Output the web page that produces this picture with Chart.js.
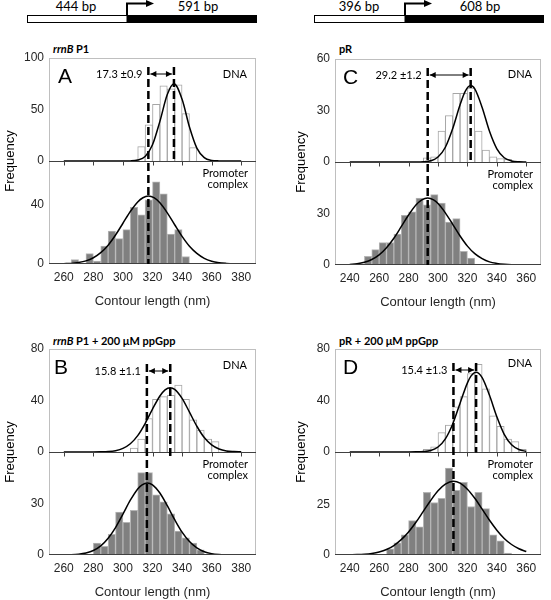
<!DOCTYPE html>
<html>
<head>
<meta charset="utf-8">
<script src="https://cdn.jsdelivr.net/npm/chart.js@4"></script>
<style>
  body { margin: 0; background: #fff; }
  #page { position: relative; width: 551px; height: 600px; overflow: hidden; background: #fff; }
  canvas { position: absolute; }
  .ttl { position: absolute; font: bold 11px Lato, "Open Sans", sans-serif; color: #000; white-space: nowrap; }
  svg text { font: 13px Lato, "Open Sans", sans-serif; }
</style>
</head>
<body>
<div id="page">
  <svg width="551" height="30" style="position:absolute;left:0;top:0">
    <rect x="27.5" y="15.5" width="99.5" height="7" fill="#fff" stroke="#000"/>
    <rect x="127" y="15" width="130" height="8" fill="#000"/>
    <path d="M127 15.5 V3.5 H147" stroke="#000" stroke-width="2" fill="none"/>
    <path d="M146 0 L154 3.5 L146 7 Z" fill="#000"/>
    <text x="76" y="11" text-anchor="middle">444 bp</text>
    <text x="198" y="11" text-anchor="middle">591 bp</text>

    <rect x="314.5" y="15.5" width="90.5" height="7" fill="#fff" stroke="#000"/>
    <rect x="405" y="15" width="139" height="8" fill="#000"/>
    <path d="M405 15.5 V3.5 H425" stroke="#000" stroke-width="2" fill="none"/>
    <path d="M424 0 L432 3.5 L424 7 Z" fill="#000"/>
    <text x="359" y="11" text-anchor="middle">396 bp</text>
    <text x="480" y="11" text-anchor="middle">608 bp</text>
  </svg>

  <div class="ttl" style="left:53px;top:42px"><i>rrnB</i> P1</div>
  <div class="ttl" style="left:339px;top:42px">pR</div>
  <div class="ttl" style="left:53px;top:334px"><i>rrnB</i> P1 + 200 μM ppGpp</div>
  <div class="ttl" style="left:339px;top:334px">pR + 200 μM ppGpp</div>

  <canvas id="chartA" width="275" height="272" style="left:0;top:40px"></canvas>
  <canvas id="chartC" width="275" height="272" style="left:276px;top:41px"></canvas>
  <canvas id="chartB" width="275" height="272" style="left:0;top:331px"></canvas>
  <canvas id="chartD" width="275" height="272" style="left:276px;top:331px"></canvas>
</div>

<script>
// histogramas (centro do bin em nm, contagens)
const binsA_dna = [312.5, 317.5, 322.5, 327.5, 332.5, 337.5, 342.5, 347.5];
const countsA_dna = [14, 35, 55, 73, 70, 74, 46, 13];
const binsA_cx = [267.5, 272.5, 277.5, 282.5, 287.5, 292.5, 297.5, 302.5, 307.5, 312.5, 317.5, 322.5, 327.5, 332.5, 337.5, 342.5];
const countsA_cx = [3, 0, 7, 2, 12, 22, 17, 23, 38, 33, 43, 55, 47, 20, 23, 5];

const binsB_dna = [307.5, 312.5, 317.5, 322.5, 327.5, 332.5, 337.5, 342.5, 347.5, 352.5, 357.5, 362.5];
const countsB_dna = [3, 10, 26, 41, 43, 44, 52, 41, 25, 17, 10, 8];
const binsB_cx = [282.5, 287.5, 292.5, 297.5, 302.5, 307.5, 312.5, 317.5, 322.5, 327.5, 332.5, 337.5, 342.5, 347.5, 352.5];
const countsB_cx = [7, 5, 12, 25, 19, 26, 48, 48, 35, 31, 24, 14, 10, 7, 3];

const binsC_dna = [292.5, 297.5, 302.5, 307.5, 312.5, 317.5, 322.5, 327.5, 332.5, 337.5, 342.5, 347.5];
const countsC_dna = [2.5, 3, 18, 27, 40, 40, 43, 18, 7, 3, 2, 1.5];
const binsC_cx = [252.5, 257.5, 262.5, 267.5, 272.5, 277.5, 282.5, 287.5, 292.5, 297.5, 302.5, 307.5, 312.5, 317.5, 322.5];
const countsC_cx = [5, 9, 13, 13, 18, 29, 31, 39, 35, 41, 36, 25, 27, 8, 4];

const binsD_dna = [292.5, 297.5, 302.5, 307.5, 312.5, 317.5, 322.5, 327.5, 332.5, 337.5, 342.5, 347.5, 352.5, 357.5];
const countsD_dna = [2, 4, 15, 21, 35, 43, 61, 68, 49, 28, 20, 10, 8, 2];
const binsD_cx = [267.5, 272.5, 277.5, 282.5, 287.5, 292.5, 297.5, 302.5, 307.5, 312.5, 317.5, 322.5, 327.5, 332.5, 337.5, 342.5, 347.5];
const countsD_cx = [3, 6, 10, 17, 14, 31, 26, 28, 43, 32, 36, 24, 31, 23, 10, 7, 1];

// curvas ajustadas
const fitA_dna_x = [260, 300, 305, 310, 315, 320, 325, 330, 334.5, 340, 345, 350, 355, 360, 365, 370, 380];
const fitA_dna_y = [0, 0, 0.1, 0.9, 4.4, 15.7, 38.5, 64.5, 75, 59.9, 33, 12.5, 3.3, 0.6, 0.1, 0, 0];
const fitA_cx_x = [260, 265, 270, 275, 280, 285, 290, 295, 300, 305, 310, 313.5, 317.2, 321, 325, 330, 335, 340, 345, 350, 355, 360, 365, 370, 375, 380];
const fitA_cx_y = [0.2, 0.4, 1.0, 2.1, 4.2, 7.6, 12.6, 19.4, 27.3, 35.2, 41.6, 44.4, 45.5, 44.4, 41, 34.3, 26.3, 18.5, 11.9, 7.1, 3.8, 1.9, 0.9, 0.4, 0.1, 0];

const fitB_dna_x = [260, 280, 285, 290, 295, 300, 305, 310, 315, 320, 325, 328.5, 332, 335, 340, 345, 350, 355, 360, 365, 370, 375, 380];
const fitB_dna_y = [0, 0, 0.1, 0.3, 1.0, 2.8, 6.4, 12.7, 22.1, 33.3, 43.5, 48.3, 50, 48.7, 41.7, 31, 20, 11.2, 5.5, 2.3, 0.8, 0.3, 0.1];
const fitB_cx_x = [260, 265, 270, 275, 280, 285, 290, 295, 300, 305, 310, 313, 316.5, 320, 325, 330, 335, 340, 345, 350, 355, 360, 365, 370, 375, 380];
const fitB_cx_y = [0.1, 0.2, 0.5, 1.2, 2.6, 5.3, 9.8, 16, 23.8, 31.9, 38.5, 40.9, 42, 40.9, 36.1, 28.7, 20.6, 13.3, 7.8, 4.1, 1.9, 0.8, 0.3, 0.1, 0, 0];

const fitC_dna_x = [240, 285, 290, 295, 300, 305, 310, 315, 318.5, 322.2, 325, 330, 335, 340, 345, 350, 355, 360];
const fitC_dna_y = [0, 0, 0.1, 0.7, 2.9, 8.6, 19.5, 33.4, 41.2, 44.5, 42.6, 31.8, 17.9, 7.7, 2.5, 0.6, 0.1, 0];
const fitC_cx_x = [240, 245, 250, 255, 260, 265, 270, 275, 280, 285, 289, 293, 297, 300, 305, 310, 315, 320, 325, 330, 335, 340, 345, 350, 355, 360];
const fitC_cx_y = [0.3, 0.7, 1.6, 3.2, 5.9, 10.1, 15.6, 22.3, 29.1, 34.9, 37.9, 39, 37.9, 35.8, 30.4, 23.7, 16.9, 11, 6.6, 3.7, 1.8, 0.9, 0.4, 0.1, 0, 0];

const fitD_dna_x = [240, 280, 285, 290, 295, 300, 305, 310, 315, 320, 322.5, 325.9, 330, 335, 340, 345, 350, 355, 360];
const fitD_dna_y = [0, 0, 0.1, 0.3, 1.2, 3.9, 10.2, 21.8, 37.9, 53.7, 59.1, 62, 57.8, 44, 27.3, 13.7, 5.6, 1.9, 0.5];
const fitD_cx_x = [240, 245, 250, 255, 260, 265, 270, 275, 280, 285, 290, 295, 300, 305, 310.5, 315, 320, 325, 330, 335, 340, 345, 350, 355, 360];
const fitD_cx_y = [0.1, 0.2, 0.4, 0.8, 1.5, 2.7, 4.7, 7.6, 11.4, 16.2, 21.6, 27, 31.8, 35.1, 36.5, 35.6, 32.6, 28.1, 22.7, 17.2, 12.3, 8.2, 5.2, 3.1, 1.7];

// médias (linhas tracejadas) e diferença
const meanDNA = [334.5, 332.0, 322.2, 325.9];
const meanComplex = [317.2, 316.2, 293.0, 310.5];
const shiftLabels = ["17.3 ±0.9", "15.8 ±1.1", "29.2 ±1.2", "15.4 ±1.3"];

// eixos
const xRanges = [[260, 380], [260, 380], [240, 360], [240, 360]];
const topAxis = [[100, 50], [80, 40], [60, 30], [80, 40]];   // [max, passo]
const botAxis = [[69, 40], [60, 30], [60, 30], [51, 25]];

const pts = (xs, ys) => xs.map((x, i) => ({ x: x, y: ys[i] }));

// desenha moldura, linhas tracejadas, seta e rótulos
const panelDeco = {
  id: "panelDeco",
  afterDatasetsDraw(chart, args, o) {
    const { ctx, chartArea: a, scales } = chart;
    const xs = scales.x;
    const mid = Math.round(scales.yTop.getPixelForValue(0)) + 0.5;
    const bot = Math.round(a.bottom) - 0.5;
    ctx.save();

    ctx.strokeStyle = "#bfbfbf";
    ctx.lineWidth = 1;
    ctx.strokeRect(Math.round(a.left) + 0.5, Math.round(a.top) + 0.5, Math.round(a.width) - 1, Math.round(a.height) - 1);

    ctx.strokeStyle = "#404040";
    ctx.beginPath();
    ctx.moveTo(a.left, mid); ctx.lineTo(a.right, mid);
    ctx.moveTo(a.left, bot); ctx.lineTo(a.right, bot);
    xs.ticks.forEach(t => {
      const px = Math.round(xs.getPixelForValue(t.value)) + 0.5;
      ctx.moveTo(px, mid); ctx.lineTo(px, mid + 4);
    });
    ctx.stroke();

    const xd = xs.getPixelForValue(o.dna);
    const xc = xs.getPixelForValue(o.cx);
    const ya = a.top + o.arrowY;

    ctx.setLineDash([8, 4]);
    ctx.lineWidth = 2.5;
    ctx.strokeStyle = "#000";
    ctx.beginPath();
    ctx.moveTo(xc, ya - 7); ctx.lineTo(xc, a.bottom);
    ctx.moveTo(xd, ya - 7); ctx.lineTo(xd, mid + o.dnaTail);
    ctx.stroke();
    ctx.setLineDash([]);

    // seta dupla
    ctx.lineWidth = 1;
    ctx.beginPath();
    ctx.moveTo(xc + 2, ya); ctx.lineTo(xd - 2, ya);
    ctx.stroke();
    ctx.fillStyle = "#000";
    ctx.beginPath();
    ctx.moveTo(xc + 2, ya); ctx.lineTo(xc + 8, ya - 3); ctx.lineTo(xc + 8, ya + 3); ctx.closePath();
    ctx.moveTo(xd - 2, ya); ctx.lineTo(xd - 8, ya - 3); ctx.lineTo(xd - 8, ya + 3); ctx.closePath();
    ctx.fill();

    ctx.font = "11px Lato, 'Open Sans', sans-serif";
    ctx.textBaseline = "middle";
    ctx.textAlign = "right";
    ctx.fillText(o.shift, xc - 6, ya);
    ctx.fillText("DNA", a.right - 9, a.top + o.dnaY);
    ctx.fillText("Promoter", a.right - 8, mid + 12);
    ctx.fillText("complex", a.right - 8, mid + 23);

    ctx.textAlign = "left";
    ctx.textBaseline = "alphabetic";
    ctx.font = "21px 'Liberation Sans', Arial, sans-serif";
    ctx.fillText(o.letter, a.left + o.letterX, a.top + 25);

    ctx.font = "13px 'Liberation Sans', Arial, sans-serif";
    ctx.textAlign = "center";
    ctx.textBaseline = "middle";
    ctx.translate(o.freqX, (a.top + a.bottom) / 2);
    ctx.rotate(-Math.PI / 2);
    ctx.fillText("Frequency", 0, 0);
    ctx.restore();
  }
};

const tickFont = { family: "'Liberation Sans', Arial, sans-serif", size: 12 };

function makePanel(canvasId, i, data, deco, rightPad, yWidth) {
  const ctx = document.getElementById(canvasId).getContext("2d");
  return new Chart(ctx, {
    data: {
      datasets: [
        {
          type: "line", data: data.fitDna, yAxisID: "yTop", borderColor: "#000", borderWidth: 1.5,
          pointRadius: 0, cubicInterpolationMode: "monotone", order: 0
        },
        {
          type: "line", data: data.fitCx, yAxisID: "yBot", borderColor: "#000", borderWidth: 1.5,
          pointRadius: 0, cubicInterpolationMode: "monotone", order: 0
        },
        {
          type: "bar", data: data.dna, yAxisID: "yTop", backgroundColor: "#fff", borderColor: "#a6a6a6",
          borderWidth: 1, barPercentage: 1, categoryPercentage: 1, grouped: false, order: 1
        },
        {
          type: "bar", data: data.cx, yAxisID: "yBot", backgroundColor: "#808080", borderColor: "#b5b5b5",
          borderWidth: 1, barPercentage: 1, categoryPercentage: 1, grouped: false, order: 1
        }
      ]
    },
    options: {
      responsive: false,
      animation: false,
      devicePixelRatio: 1,
      layout: { padding: { left: 0, right: rightPad, top: 18, bottom: 0 } },
      plugins: { legend: { display: false }, tooltip: { enabled: false }, panelDeco: deco },
      scales: {
        x: {
          type: "linear", min: xRanges[i][0], max: xRanges[i][1],
          ticks: { stepSize: 20, padding: 6, color: "#262626", font: tickFont },
          grid: { display: false, drawTicks: false }, border: { display: false },
          title: { display: true, text: "Contour length (nm)", color: "#262626", padding: { top: 0, bottom: 3 },
                   font: { family: "'Liberation Sans', Arial, sans-serif", size: 13 } },
          afterFit: s => { s.height = 48; }
        },
        // a ordem importa: o primeiro eixo da pilha fica embaixo
        yBot: {
          type: "linear", position: "left", stack: "hist", stackWeight: 1,
          min: 0, max: botAxis[i][0],
          ticks: { stepSize: botAxis[i][1], includeBounds: false, padding: 5, color: "#262626", font: tickFont },
          grid: { display: false, drawTicks: false }, border: { display: false },
          afterBuildTicks: s => { s.ticks = s.ticks.filter(t => t.value < s.max * 0.9); },
          afterFit: s => { s.width = yWidth; }
        },
        yTop: {
          type: "linear", position: "left", stack: "hist", stackWeight: 1,
          min: 0, max: topAxis[i][0],
          ticks: { stepSize: topAxis[i][1], padding: 5, color: "#262626", font: tickFont },
          grid: { display: false, drawTicks: false }, border: { display: false },
          afterFit: s => { s.width = yWidth; }
        }
      }
    },
    plugins: [panelDeco]
  });
}

window.onload = function() {
  makePanel("chartA", 0, {
    dna: pts(binsA_dna, countsA_dna), cx: pts(binsA_cx, countsA_cx),
    fitDna: pts(fitA_dna_x, fitA_dna_y), fitCx: pts(fitA_cx_x, fitA_cx_y)
  }, { letter: "A", letterX: 9, dna: meanDNA[0], cx: meanComplex[0], shift: shiftLabels[0], arrowY: 16, dnaY: 16, dnaTail: 0, freqX: 10 }, 19, 49);

  makePanel("chartC", 2, {
    dna: pts(binsC_dna, countsC_dna), cx: pts(binsC_cx, countsC_cx),
    fitDna: pts(fitC_dna_x, fitC_dna_y), fitCx: pts(fitC_cx_x, fitC_cx_y)
  }, { letter: "C", letterX: 8, dna: meanDNA[2], cx: meanComplex[2], shift: shiftLabels[2], arrowY: 16, dnaY: 15, dnaTail: 0, freqX: 25 }, 10, 59);

  makePanel("chartB", 1, {
    dna: pts(binsB_dna, countsB_dna), cx: pts(binsB_cx, countsB_cx),
    fitDna: pts(fitB_dna_x, fitB_dna_y), fitCx: pts(fitB_cx_x, fitB_cx_y)
  }, { letter: "B", letterX: 5, dna: meanDNA[1], cx: meanComplex[1], shift: shiftLabels[1], arrowY: 22, dnaY: 16, dnaTail: 6, freqX: 10 }, 19, 49);

  makePanel("chartD", 3, {
    dna: pts(binsD_dna, countsD_dna), cx: pts(binsD_cx, countsD_cx),
    fitDna: pts(fitD_dna_x, fitD_dna_y), fitCx: pts(fitD_cx_x, fitD_cx_y)
  }, { letter: "D", letterX: 8, dna: meanDNA[3], cx: meanComplex[3], shift: shiftLabels[3], arrowY: 21, dnaY: 14, dnaTail: 0, freqX: 25 }, 10, 59);
};
</script>
</body>
</html>
